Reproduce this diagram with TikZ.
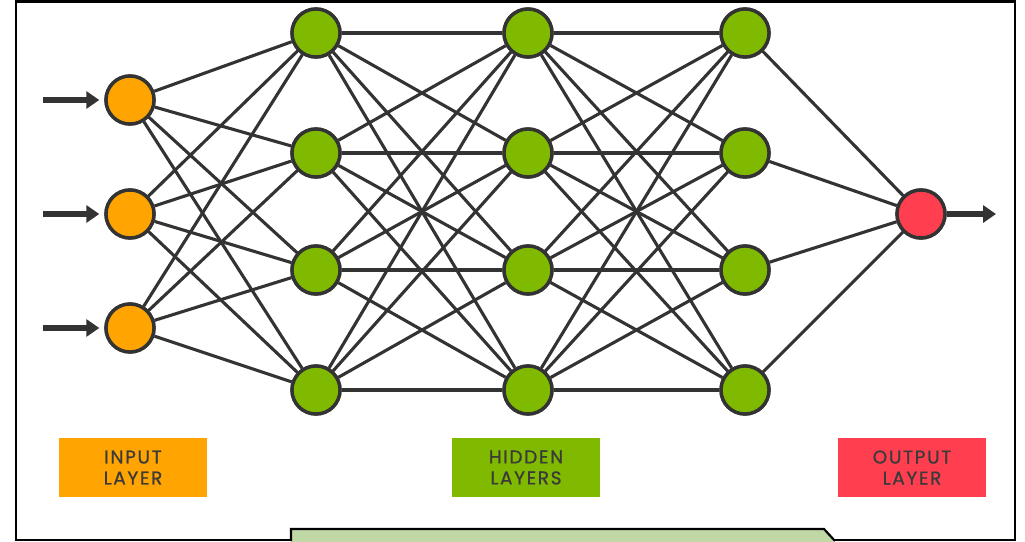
\documentclass[tikz,border=0pt]{standalone}
\usepackage{fontspec}
\newfontfamily\lblfont{Poppins}[LetterSpace=9, FakeBold=0.8]
\usetikzlibrary{arrows.meta}
\definecolor{inorange}{HTML}{FFA400}
\definecolor{hidgreen}{HTML}{7FBA00}
\definecolor{outred}{HTML}{FF3F4F}
\definecolor{edgegray}{HTML}{333333}
\definecolor{txtgray}{HTML}{3A3A3A}
\definecolor{palegreen}{HTML}{C0D8A6}
\tikzset{
  neuron/.style={circle, draw=edgegray, line width=3.4pt, minimum size=48pt, inner sep=0pt},
  inneuron/.style={neuron, fill=inorange},
  hidneuron/.style={neuron, fill=hidgreen},
  outneuron/.style={neuron, fill=outred},
  link/.style={draw=edgegray, line width=3.1pt},
  flow/.style={draw=edgegray, line width=5.5pt, -{Triangle[length=13pt,width=17pt]}},
  labelbox/.style={minimum width=148pt, minimum height=59pt, inner sep=0pt, align=center,
    text=txtgray, font=\lblfont\fontsize{18.5}{21}\selectfont},
}
\begin{document}
\begin{tikzpicture}[x=1pt,y=-1pt]
\useasboundingbox (0,0) rectangle (1025,541);
\fill[white] (0,0) rectangle (1025,541);
% frame
\draw[black, line width=2.2pt] (291,540) -- (16,540) -- (16,1.5) -- (1015,1.5) -- (1015,540) -- (834,540);
\fill[palegreen] (291,545) -- (291,529) -- (824,529) -- (836,545) -- cycle;
\draw[black, line width=2.2pt] (291,541) -- (291,529) -- (824,529) -- (835,541);
% neurons
\foreach \i/\y in {1/100,2/214,3/328} \node[inneuron] (i\i) at (130,\y) {};
\foreach \l/\x in {1/316,2/528,3/745}
  \foreach \j/\y in {1/33,2/153,3/270,4/390}
    \node[hidneuron] (h\l\j) at (\x,\y) {};
\node[outneuron] (o) at (921,214) {};
% links
\foreach \i in {1,2,3} \foreach \j in {1,2,3,4} \path[link] (i\i) -- (h1\j);
\foreach \j in {1,2,3,4} \foreach \k in {1,2,3,4} {\path[link] (h1\j) -- (h2\k); \path[link] (h2\j) -- (h3\k);}
\foreach \j in {1,2,3,4} \path[link] (h3\j) -- (o);
% redraw neurons on top
\foreach \i/\y in {1/100,2/214,3/328} \node[inneuron] at (130,\y) {};
\foreach \l/\x in {1/316,2/528,3/745}
  \foreach \j/\y in {1/33,2/153,3/270,4/390}
    \node[hidneuron] at (\x,\y) {};
\node[outneuron] at (921,214) {};
% arrows
\coordinate (a1) at (43,100);
\coordinate (a2) at (43,214);
\coordinate (a3) at (43,328);
\coordinate (oe) at (996,214);
\foreach \i in {1,2,3} \draw[flow] (a\i) -- ([xshift=-5pt]i\i.west);
\draw[flow] (o.east) -- (oe);
% labels
\node[labelbox, fill=inorange] (li) at (133,467.5) {INPUT\\LAYER};
\node[labelbox, fill=hidgreen] (lh) at (526,467.5) {HIDDEN\\LAYERS};
\node[labelbox, fill=outred] (lo) at (912,467.5) {OUTPUT\\LAYER};
\end{tikzpicture}
\end{document}
